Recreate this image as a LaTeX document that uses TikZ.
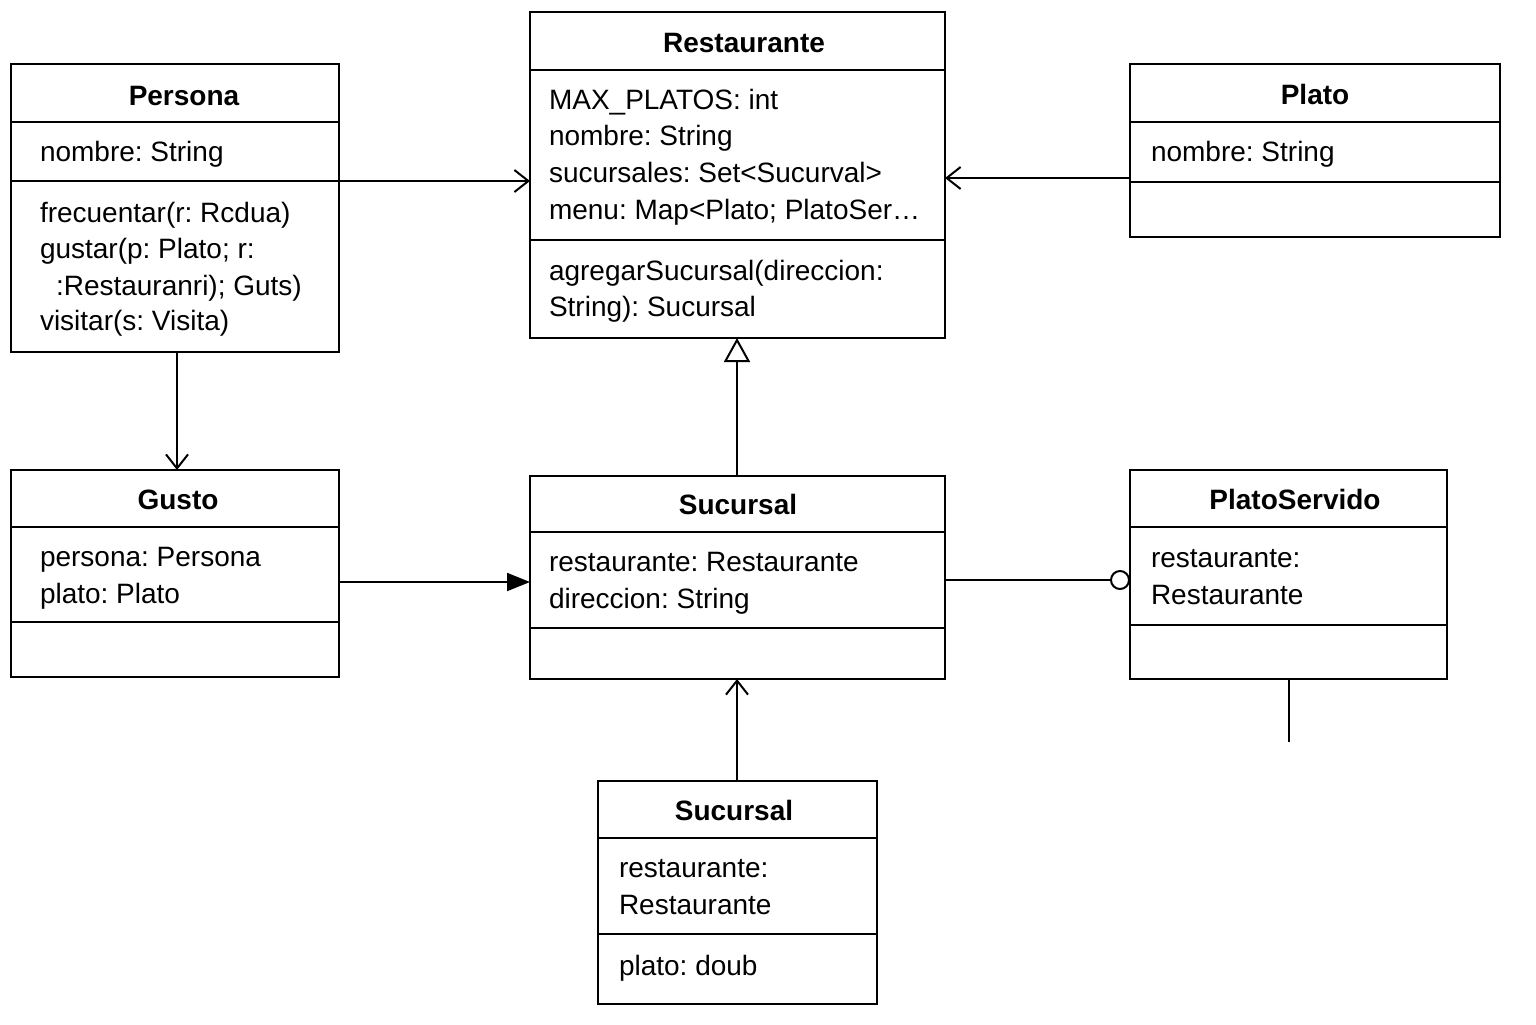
\documentclass[tikz,border=0pt]{standalone}
\usepackage{fontspec}
\setmainfont{Liberation Sans}
\usetikzlibrary{arrows.meta}
\frenchspacing
\begin{document}
\begin{tikzpicture}[x=0.5pt,y=-0.5pt,line width=1pt,
  box/.style={draw,anchor=north west,inner sep=0pt,outer sep=0pt,rectangle},
  ttl/.style={font=\fontsize{14pt}{18.5pt}\selectfont\bfseries,anchor=mid,inner sep=0pt,yshift=-2.5pt},
  txt/.style={font=\fontsize{14pt}{18.5pt}\selectfont,anchor=mid west,inner sep=0pt,yshift=-2.5pt},
  openarr/.style={-{Straight Barb[length=7pt,width=11pt]}},
  genarr/.style={-{Triangle[open,length=12pt,width=13pt,fill=white]}},
  fillarr/.style={-{Triangle[length=11.5pt,width=9pt]}},
  circarr/.style={-{Circle[open,length=10pt,width=10pt,fill=white]}}]
\useasboundingbox (0,0) rectangle (1536,1024);
\fill[white] (0,0) rectangle (1536,1024);

% Persona
\node[box,minimum width=164pt,minimum height=144pt] (persona) at (11,64) {};
\draw (11,122) -- (339,122);
\draw (11,181) -- (339,181);
\node[ttl] (personaT) at (184,95) {Persona};
\node[txt] (personaA) at (39,151) {nombre: String};
\node[txt] (personaM1) at (39,212) {frecuentar(r: Rcdua)};
\node[txt] (personaM2) at (39,248) {gustar(p: Plato; r:};
\node[txt] (personaM3) at (55,285) {:Restauranri); Guts)};
\node[txt] (personaM4) at (39,320) {visitar(s: Visita)};

% Restaurante
\node[box,minimum width=207.5pt,minimum height=163pt] (rest) at (530,12) {};
\draw (530,70) -- (945,70);
\draw (530,240) -- (945,240);
\node[ttl] (restT) at (744,42) {Restaurante};
\node[txt] (restA1) at (548,99) {MAX\_PLATOS: int};
\node[txt] (restA2) at (548,135) {nombre: String};
\node[txt] (restA3) at (548,172) {sucursales: Set<Sucurval>};
\node[txt] (restA4) at (548,209) {menu: Map<Plato; PlatoSer…};
\node[txt] (restM1) at (548,270) {agregarSucursal(direccion:};
\node[txt] (restM2) at (548,306) {String): Sucursal};

% Plato
\node[box,minimum width=185pt,minimum height=86.5pt] (plato) at (1130,64) {};
\draw (1130,122) -- (1500,122);
\draw (1130,182) -- (1500,182);
\node[ttl] (platoT) at (1315,94) {Plato};
\node[txt] (platoA) at (1150,151) {nombre: String};

% Gusto
\node[box,minimum width=164pt,minimum height=103.5pt] (gusto) at (11,470) {};
\draw (11,527) -- (339,527);
\draw (11,622) -- (339,622);
\node[ttl] (gustoT) at (178,499) {Gusto};
\node[txt] (gustoA1) at (39,556) {persona: Persona};
\node[txt] (gustoA2) at (39,593) {plato: Plato};

% Sucursal
\node[box,minimum width=207.5pt,minimum height=101.5pt] (suc) at (530,476) {};
\draw (530,532) -- (945,532);
\draw (530,628) -- (945,628);
\node[ttl] (sucT) at (738,504) {Sucursal};
\node[txt] (sucA1) at (548,561) {restaurante: Restaurante};
\node[txt] (sucA2) at (548,598) {direccion: String};

% PlatoServido
\node[box,minimum width=158.5pt,minimum height=104.5pt] (ps) at (1130,470) {};
\draw (1130,527) -- (1447,527);
\draw (1130,625) -- (1447,625);
\node[ttl] (psT) at (1295,499) {PlatoServido};
\node[txt] (psA1) at (1150,557) {restaurante:};
\node[txt] (psA2) at (1150,594) {Restaurante};

% Sucursal (bottom)
\node[box,minimum width=139.5pt,minimum height=111.5pt] (suc2) at (598,781) {};
\draw (598,838) -- (877,838);
\draw (598,934) -- (877,934);
\node[ttl] (suc2T) at (734,810) {Sucursal};
\node[txt] (suc2A1) at (618,867) {restaurante:};
\node[txt] (suc2A2) at (618,904) {Restaurante};
\node[txt] (suc2M) at (618,965) {plato: doub};

% connector coordinates
\coordinate (y181) at (0,181);
\coordinate (y178) at (0,178);
\coordinate (y582) at (0,582);
\coordinate (y580) at (0,580);
\coordinate (x177) at (177,0);
\coordinate (x737) at (737,0);
\coordinate (x1289) at (1289,0);
\coordinate (psEnd) at (1289,742);

\draw[openarr] (persona.east |- y181) -- (rest.west |- y181);
\draw[openarr] (plato.west |- y178) -- (rest.east |- y178);
\draw[openarr] (persona.south -| x177) -- (gusto.north -| x177);
\draw[genarr] (suc.north -| x737) -- (rest.south -| x737);
\draw[fillarr] (gusto.east |- y582) -- (suc.west |- y582);
\draw[circarr] (suc.east |- y580) -- (ps.west |- y580);
\draw[openarr] (suc2.north -| x737) -- (suc.south -| x737);
\draw (ps.south -| x1289) -- (psEnd);
\end{tikzpicture}
\end{document}
